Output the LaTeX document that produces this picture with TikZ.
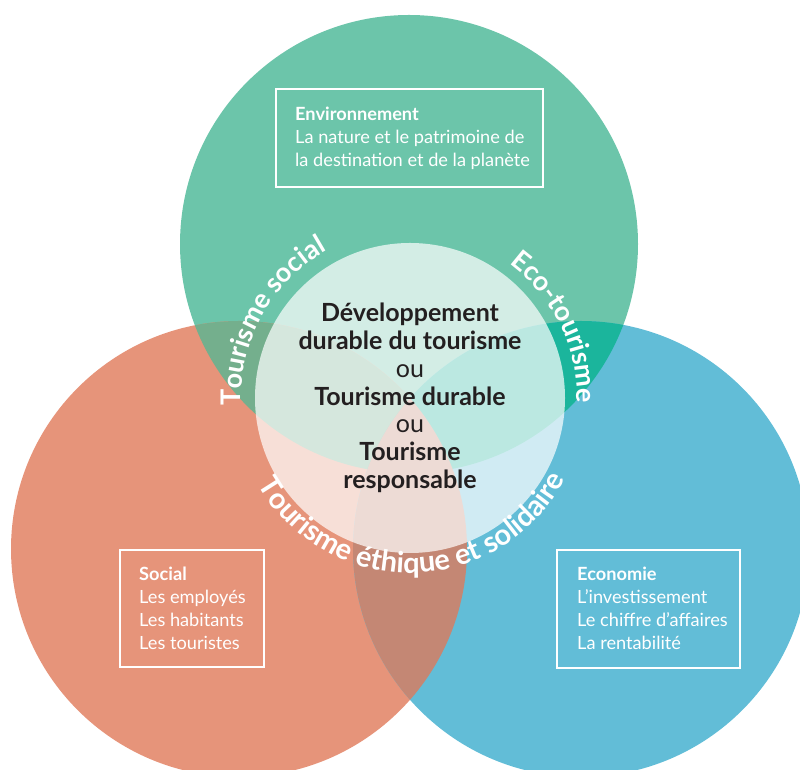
\documentclass[tikz,border=0pt]{standalone}
\usepackage{fontspec}
\setmainfont{Lato}
\usetikzlibrary{decorations.text}

\definecolor{envgreen}{HTML}{6CC5AA}
\definecolor{socorange}{HTML}{E6947A}
\definecolor{ecoblue}{HTML}{62BDD7}
\definecolor{envsoc}{HTML}{74AF8D}
\definecolor{enveco}{HTML}{1BB59C}
\definecolor{soceco}{HTML}{C48774}
\definecolor{titledark}{HTML}{231F20}

\tikzset{
  frame/.style={draw=white, line width=2pt},
  boxtext/.style={text=white, align=left, inner sep=0pt,
    font=\fontsize{18.2}{23.3}\selectfont},
  ringtext/.style={decorate, decoration={text along path, text align=center,
    text color=white}},
}

\begin{document}
\begin{tikzpicture}[x=1pt,y=1pt]
	\useasboundingbox (0,0) rectangle (800,770);
	\coordinate (env) at (409,526);
	\coordinate (soc) at (239,221);
	\coordinate (eco) at (581,221);
	\coordinate (mid) at (410,372);
	% the three circles
	\fill[envgreen] (env) circle[radius=229];
	\fill[socorange] (soc) circle[radius=228];
	\fill[ecoblue] (eco) circle[radius=228];
	% overlaps
	\begin{scope}
		\clip (env) circle[radius=229];
		\fill[envsoc] (soc) circle[radius=228];
		\fill[enveco] (eco) circle[radius=228];
	\end{scope}
	\begin{scope}
		\clip (soc) circle[radius=228];
		\fill[soceco] (eco) circle[radius=228];
	\end{scope}
	\fill[white, opacity=.7] (mid) circle[radius=155];
	% texts round the middle
	\path[ringtext, decoration={text={|\bfseries\fontsize{27}{27}\selectfont|Tourisme social}}]
		(mid) ++(214:169) arc[start angle=214, end angle=88, radius=169];
	\path[ringtext, decoration={text={|\bfseries\fontsize{27}{27}\selectfont|Eco-tourisme}}]
		(mid) ++(89:167) arc[start angle=89, end angle=-37, radius=167];
	\path[ringtext, decoration={text={|\bfseries\fontsize{29}{29}\selectfont|Tourisme éthique et solidaire}}]
		(mid) ++(183:175) arc[start angle=183, end angle=359, radius=175];
	\node[align=center, inner sep=0pt, text=titledark,
		font=\bfseries\fontsize{25}{27.8}\selectfont] (title) at (mid)
		{Développement\\durable du tourisme\\{\mdseries ou}\\Tourisme durable\\{\mdseries ou}\\Tourisme\\responsable};
	% boxes
	\draw[frame] (276,681) rectangle (543,583);
	\node[boxtext, anchor=base west] (envtext) at (295,603)
		{\textbf{Environnement}\\La nature et le patrimoine de\\la destination et de la planète};
	\draw[frame] (120,220) rectangle (264,103);
	\node[boxtext, anchor=base west] (soctext) at (139,120)
		{\textbf{Social}\\Les employés\\Les habitants\\Les touristes};
	\draw[frame] (557,220) rectangle (740,102);
	\node[boxtext, anchor=base west] (ecotext) at (577,120)
		{\textbf{Economie}\\L’investissement\\Le chiffre d’affaires\\La rentabilité};
\end{tikzpicture}
\end{document}
